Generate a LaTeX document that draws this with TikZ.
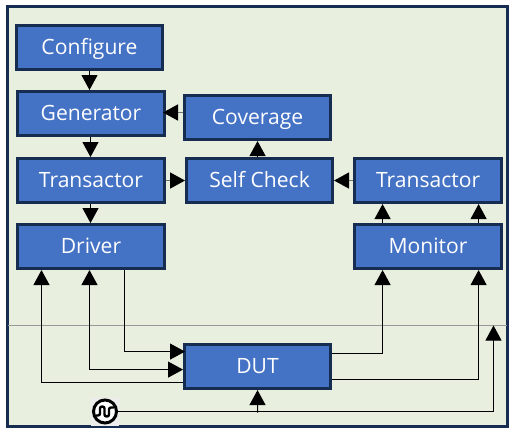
\documentclass[tikz,border=0pt]{standalone}
\usepackage{fontspec}
\setmainfont{Open Sans}
\usepackage{xcolor}
\usetikzlibrary{arrows.meta,positioning}
\definecolor{boardgreen}{HTML}{E9EFDF}
\definecolor{boardedge}{HTML}{172C51}
\definecolor{boxblue}{HTML}{4472C4}
\tikzset{
    sigtip/.tip={Triangle[length=0.375cm,width=0.4cm]},
    boxnode/.style={draw=boardedge, fill=boxblue, line width=0.075cm, text=white, font=\fontsize{15pt}{17pt}\selectfont, minimum width=3.65cm, minimum height=1.1cm, inner sep=0pt, text height=13.5pt, text depth=3pt},
    widebox/.style={boxnode, minimum width=3.675cm},
    sigarrow/.style={-{sigtip}, line width=0.025cm, black},
    softarrow/.style={draw=black!55, -{sigtip[fill=black,color=black]}, line width=0.04cm},
    sigline/.style={line width=0.025cm, black}
}
\begin{document}
\begin{tikzpicture}[x=0.025cm,y=-0.025cm]
        \useasboundingbox (0,0) rectangle (514,433);
        \draw[draw=boardedge, fill=boardgreen, line width=0.075cm] (7.5,6.5) rectangle (507.5,426.5);
        \node[minimum width=12.475cm, minimum height=0pt, inner sep=0pt] (split) at (257.5,325.5) {};
        \draw[black!40, line width=0.025cm] (split.west) -- (split.east);

        \node[boxnode] (configure) at (89.5,47.5) {Configure};
        \node[widebox, below=0.475cm of configure, xshift=0.0375cm] (generator) {Generator};
        \node[boxnode, right=0.425cm of generator, yshift=-0.1cm] (coverage) {Coverage};
        \node[widebox, below=0.5cm of generator] (transl) {Transactor};
        \node[widebox, below=0.475cm of transl] (driver) {Driver};
        \node[boxnode, right=0.475cm of transl] (selfcheck) {Self Check};
        \node[widebox, right=0.475cm of selfcheck] (transr) {Transactor};
        \node[widebox, below=0.475cm of transr] (monitor) {Monitor};
        \node[boxnode, below right=1.825cm and 0.425cm of driver] (dut) {DUT};

        \node[fill=black!7, minimum size=0.7cm, inner sep=0pt] (clockbg) at (105,411.8) {};
        \node[circle, draw=black, fill=white, line width=0.075cm, minimum size=0.575cm, inner sep=0pt] (clock) at (105,411.5) {};
        \draw[line width=0.06cm, rounded corners=0.05cm] ([xshift=-0.225cm,yshift=-0.1cm]clock.center) -- ++(4,0) -- ++(0,-9) -- ++(4.5,0) -- ++(0,10) -- ++(4.5,0) -- ++(0,-9) -- ++(5,0);

        \coordinate (sigtop) at (493.5,411.5);
        \coordinate (sigdut) at (257.5,412.5);

        \draw[sigarrow] (configure.south) -- (configure.south |- generator.north);
        \draw[sigarrow] ([xshift=-0.0125cm]generator.south) -- ([xshift=-0.0125cm]generator.south |- transl.north);
        \draw[sigarrow] ([xshift=-0.0125cm]transl.south) -- ([xshift=-0.0125cm]transl.south |- driver.north);
        \draw[softarrow, shorten >=-0.075cm] ([yshift=0.125cm]coverage.west) -- ([yshift=0.125cm]coverage.west -| generator.east);
        \draw[softarrow] (transl.east) -- (transl.east -| selfcheck.west);
        \draw[softarrow] (transr.west) -- (transr.west -| selfcheck.east);
        \draw[sigarrow] (selfcheck.north -| coverage.south) -- (coverage.south);
        \draw[sigarrow] ([xshift=-1.1375cm]monitor.north) -- ([xshift=-1.1375cm]transr.south);
        \draw[sigarrow] ([xshift=1.2625cm]monitor.north) -- ([xshift=1.2625cm]transr.south);

        \draw[sigarrow, shorten >=-0.05cm] ([xshift=0.8375cm]driver.south) |- ([yshift=0.375cm]dut.west);
        \draw[sigarrow, {sigtip}-{sigtip}] ([xshift=-0.0375cm]driver.south) |- ([yshift=-0.075cm]dut.west);
        \draw[sigarrow] ([yshift=-0.4cm]dut.west) -| ([xshift=-1.2375cm]driver.south);
        \draw[sigarrow] ([yshift=0.325cm]dut.east) -| ([xshift=-1.1375cm]monitor.south);
        \draw[sigarrow] ([yshift=-0.325cm]dut.east) -| ([xshift=1.2625cm]monitor.south);

        \draw[sigline] (clock.east) -- (clock.east -| sigtop);
        \draw[sigarrow] (sigtop) -- (sigtop |- split.west);
        \draw[sigarrow] (sigdut) -- (dut.south);
    \end{tikzpicture}
\end{document}
